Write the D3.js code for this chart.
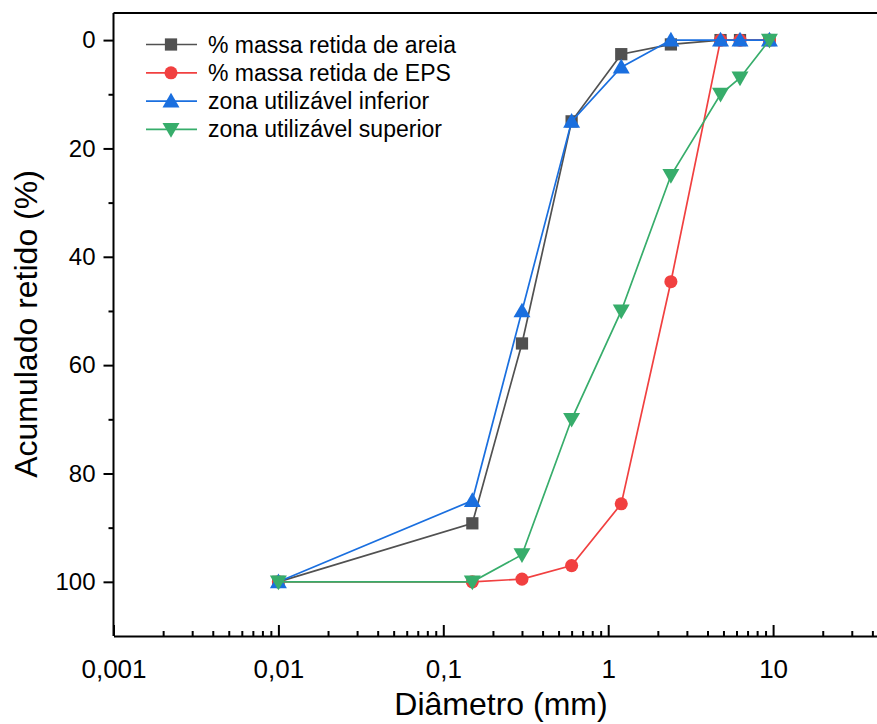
<!DOCTYPE html>
<html><head><meta charset="utf-8">
<script src="https://cdn.jsdelivr.net/npm/d3@7"></script>
<style>
html,body{margin:0;padding:0;background:#fff;}
svg{display:block;font-family:"Liberation Sans",Arial,sans-serif;}
</style></head>
<body>
<svg id="chart" width="877" height="724"></svg>
<script>
// ---- data ----
const sieves = [0.01, 0.15, 0.3, 0.6, 1.2, 2.4, 4.8, 6.3, 9.5];
const areia = [100, 89.2, 56, 15, 2.6, 0.8, 0, 0, 0];
const eps = [100, 100, 99.5, 97, 85.6, 44.6, 0, 0, 0];
const inferior = [100, 85, 50, 15, 5, 0, 0, 0, 0];
const superior = [100, 100, 95, 70, 50, 25, 10, 7, 0];
const seriesNames = ["% massa retida de areia", "% massa retida de EPS", "zona utilizável inferior", "zona utilizável superior"];
const seriesColors = ["#515151", "#F14040", "#1A6FDF", "#37AD6B"];
const seriesSymbols = ["square", "circle", "triangle", "triangleDown"];
const xMajorTicks = [0.001, 0.01, 0.1, 1, 10];
const xTickLabels = ["0,001", "0,01", "0,1", "1", "10"];
const yMajorTicks = [0, 20, 40, 60, 80, 100];
const yMinorTicks = [10, 30, 50, 70, 90];
const xTitle = "Diâmetro (mm)";
const yTitle = "Acumulado retido (%)";

const allSeries = [areia, eps, inferior, superior];

const svg = d3.select("#chart");
const plotLeft = 113.5, plotTop = 13, plotBottom = 636;
const x = d3.scaleLog().domain([0.001, 100]).range([plotLeft, plotLeft + 5 * 164.9]);
const y = d3.scaleLinear().domain([-5, 110]).range([plotTop, plotBottom]);

// minor x ticks
const xMinor = [];
for (let e = -3; e < 2; e++) for (let k = 2; k <= 9; k++) xMinor.push(k * Math.pow(10, e));

// frame top line
svg.append("line").attr("x1", plotLeft).attr("x2", 877).attr("y1", plotTop).attr("y2", plotTop)
  .attr("stroke", "#000").attr("stroke-width", 2);

// x axis
const gx = svg.append("g").attr("transform", `translate(0,${plotBottom})`);
gx.call(d3.axisBottom(x).tickValues(xMajorTicks).tickSizeInner(-11).tickSizeOuter(0)
  .tickPadding(24).tickFormat((d, i) => xTickLabels[i]));
gx.select(".domain").attr("stroke-width", 2);
gx.selectAll(".tick line").attr("stroke-width", 2);
gx.selectAll(".tick text").attr("font-size", 26).attr("fill", "#000")
  .attr("font-family", "Liberation Sans, Arial, sans-serif");
const gxm = svg.append("g").attr("transform", `translate(0,${plotBottom})`);
gxm.call(d3.axisBottom(x).tickValues(xMinor).tickSizeInner(-5).tickSizeOuter(0).tickFormat(""));
gxm.select(".domain").remove();
gxm.selectAll(".tick line").attr("stroke-width", 2);

// y axis
const gy = svg.append("g").attr("transform", `translate(${plotLeft},0)`);
gy.call(d3.axisLeft(y).tickValues(yMajorTicks).tickSizeInner(10).tickSizeOuter(0).tickPadding(8));
gy.select(".domain").attr("d", `M0,${plotTop}V${plotBottom}`).attr("stroke-width", 2);
gy.selectAll(".tick line").attr("stroke-width", 2);
gy.selectAll(".tick text").attr("font-size", 24).attr("fill", "#000")
  .attr("font-family", "Liberation Sans, Arial, sans-serif");
const gym = svg.append("g").attr("transform", `translate(${plotLeft},0)`);
gym.call(d3.axisLeft(y).tickValues(yMinorTicks).tickSizeInner(5).tickSizeOuter(0).tickFormat(""));
gym.select(".domain").remove();
gym.selectAll(".tick line").attr("stroke-width", 2);

// titles
svg.append("text").attr("x", 501).attr("y", 715).attr("text-anchor", "middle")
  .attr("font-size", 32).attr("fill", "#000").text(xTitle);
svg.append("text").attr("transform", "translate(37,324) rotate(-90)").attr("text-anchor", "middle")
  .attr("font-size", 32).attr("fill", "#000").text(yTitle);

// symbols
const symMap = {
  square: d3.symbolSquare, circle: d3.symbolCircle,
  triangle: d3.symbolTriangle, triangleDown: d3.symbolTriangle
};
function marker(g, type, color, cx, cy) {
  const size = type === "square" ? 150 : type === "circle" ? 135 : 125;
  const rot = type === "triangleDown" ? 180 : 0;
  const dy = type === "triangle" ? 1.5 : type === "triangleDown" ? -1.5 : 0;
  g.append("path").attr("d", d3.symbol().type(symMap[type]).size(size)())
    .attr("transform", `translate(${cx},${cy + dy}) rotate(${rot})`)
    .attr("fill", color);
}

const line = d3.line().x(d => x(d[0])).y(d => y(d[1]));
allSeries.forEach((vals, si) => {
  const g = svg.append("g");
  const pts = sieves.map((s, i) => [s, vals[i]]);
  g.append("path").attr("d", line(pts)).attr("fill", "none")
    .attr("stroke", seriesColors[si]).attr("stroke-width", 1.7);
  pts.forEach(p => marker(g, seriesSymbols[si], seriesColors[si], x(p[0]), y(p[1])));
});

// legend
const lg = svg.append("g");
seriesNames.forEach((name, i) => {
  const cy = 44.5 + i * 28.3;
  lg.append("line").attr("x1", 146).attr("x2", 197).attr("y1", cy).attr("y2", cy)
    .attr("stroke", seriesColors[i]).attr("stroke-width", 1.7);
  marker(lg, seriesSymbols[i], seriesColors[i], 171, cy);
  lg.append("text").attr("x", 208).attr("y", cy + 8).attr("font-size", 23)
    .attr("fill", "#000").text(name);
});
</script>
</body></html>
